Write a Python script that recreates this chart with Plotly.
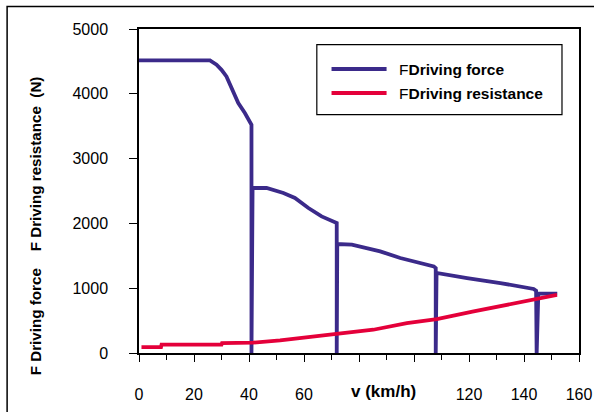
import plotly.graph_objects as go

# Driving force (blue), one continuous stepped series through all gears
force_v = [0, 25.8, 28.2, 30.0, 31.8, 33.7, 35.0, 36.1, 38.5, 40.9, 40.9,
           41.3, 46.4, 52.5, 56.7, 61.6, 66.4, 71.9, 71.9,
           72.1, 77.4, 87.7, 95.0, 102.3, 107.2, 107.9, 107.9,
           108.2, 119.3, 131.4, 143.5, 144.4, 144.6,
           145.2, 152.1]
force_f = [4515, 4515, 4449, 4370, 4268, 4090, 3975, 3858, 3704, 3523, 0,
           2546, 2546, 2469, 2392, 2238, 2108, 2006, 0,
           1682, 1671, 1568, 1466, 1389, 1336, 1310, 0,
           1235, 1157, 1080, 988, 960, -20,
           915, 915]

# Driving resistance (red)
res_v = [0.9, 8.0, 8.2, 30.0, 30.2, 41.5, 51.3, 61.0, 71.9, 85.2, 97.4,
         108.3, 121.7, 133.8, 146.0, 152.0]
res_f = [92, 92, 128, 128, 154, 160, 194, 240, 282, 359, 462,
         524, 641, 744, 847, 898]

x_tickvals = [0, 20, 40, 60, 80, 100, 120, 140, 160]
x_ticktext = ["0", "20", "40", "60", "", "", "120", "140", "160"]
y_tickvals = [0, 1000, 2000, 3000, 4000, 5000]

x_title = "v (km/h)"
y_title = ("F Driving force\u00a0\u00a0\u00a0\u00a0F Driving resistance\u00a0\u00a0(N)")
legend_names = ["F<b>Driving force</b>", "F<b>Driving resistance</b>"]

BLUE = "#3b2a8a"
RED = "#e4003a"
FONT = "Liberation Sans, Arial, sans-serif"

fig = go.Figure()
fig.add_trace(go.Scatter(x=force_v, y=force_f, mode="lines",
                         line=dict(color=BLUE, width=3.8), showlegend=False))
fig.add_trace(go.Scatter(x=res_v, y=res_f, mode="lines",
                         line=dict(color=RED, width=3.8), showlegend=False))

L, R, T, B = 139.3, 15, 29.3, 412 - 353.3
W, H = 594, 412
pw, ph = W - L - R, H - T - B

def px2paper(px, py):
    return (px - L) / pw, (H - B - py) / ph

fig.update_layout(
    width=W, height=H,
    margin=dict(l=L, r=R, t=T, b=B, pad=0, autoexpand=False),
    paper_bgcolor="white", plot_bgcolor="white",
    font=dict(family=FONT, size=16, color="black"),
    xaxis=dict(range=[0, 160], tickvals=x_tickvals, ticktext=x_ticktext,
               ticks="outside", ticklen=7, tickcolor="black", tickwidth=1.2,
               minor=dict(dtick=10, ticks="outside", ticklen=5,
                          tickcolor="black", tickwidth=1.2),
               showline=True, linecolor="black", linewidth=1.5, mirror=True,
               showgrid=False, zeroline=False, ticklabelstandoff=19,
               automargin=False, tickfont=dict(size=16)),
    yaxis=dict(range=[0, 5000], tickvals=y_tickvals,
               ticks="outside", ticklen=8, tickcolor="black", tickwidth=1.2,
               showline=True, linecolor="black", linewidth=1.5, mirror=True,
               showgrid=False, zeroline=False, ticklabelstandoff=18,
               automargin=False, tickfont=dict(size=16)),
)

shapes = []
# outer frame
fx0, fy1 = px2paper(7.5, 6.7)
fx1, fy0 = px2paper(640, 460)
shapes.append(dict(type="rect", xref="paper", yref="paper",
                   x0=fx0, x1=fx1, y0=fy0, y1=fy1,
                   line=dict(color="black", width=1.5)))
# legend box
lx0, ly1 = px2paper(317, 45)
lx1, ly0 = px2paper(562, 115)
shapes.append(dict(type="rect", xref="paper", yref="paper",
                   x0=lx0, x1=lx1, y0=ly0, y1=ly1,
                   line=dict(color="black", width=1.2), fillcolor="white"))
annotations = []
for i, (name, col) in enumerate(zip(legend_names, [BLUE, RED])):
    py = 69.3 + 24 * i
    a0, yy = px2paper(331.7, py)
    a1, _ = px2paper(386.7, py)
    shapes.append(dict(type="line", xref="paper", yref="paper",
                       x0=a0, x1=a1, y0=yy, y1=yy,
                       line=dict(color=col, width=3.8)))
    tx, _ = px2paper(396.7, py)
    annotations.append(dict(text=name, xref="paper", yref="paper", x=tx, y=yy,
                            xanchor="left", yanchor="middle", showarrow=False,
                            font=dict(size=15.5)))

# x axis title sitting among tick labels
_, xty = px2paper(0, 392)
annotations.append(dict(text="<b>" + x_title + "</b>", xref="x", yref="paper",
                        x=88.9, y=xty, xanchor="center", yanchor="middle",
                        showarrow=False, font=dict(size=17)))
# y axis title
ytx, yty = px2paper(36, 226)
annotations.append(dict(text="<b>" + y_title + "</b>", xref="paper", yref="paper",
                        x=ytx, y=yty, xanchor="center", yanchor="middle",
                        textangle=-90, showarrow=False, font=dict(size=15.2)))

fig.update_layout(shapes=shapes, annotations=annotations)
fig.write_html("out.html", config={"displayModeBar": False},
               post_script="document.body.style.margin='0';document.body.style.overflow='hidden';")
